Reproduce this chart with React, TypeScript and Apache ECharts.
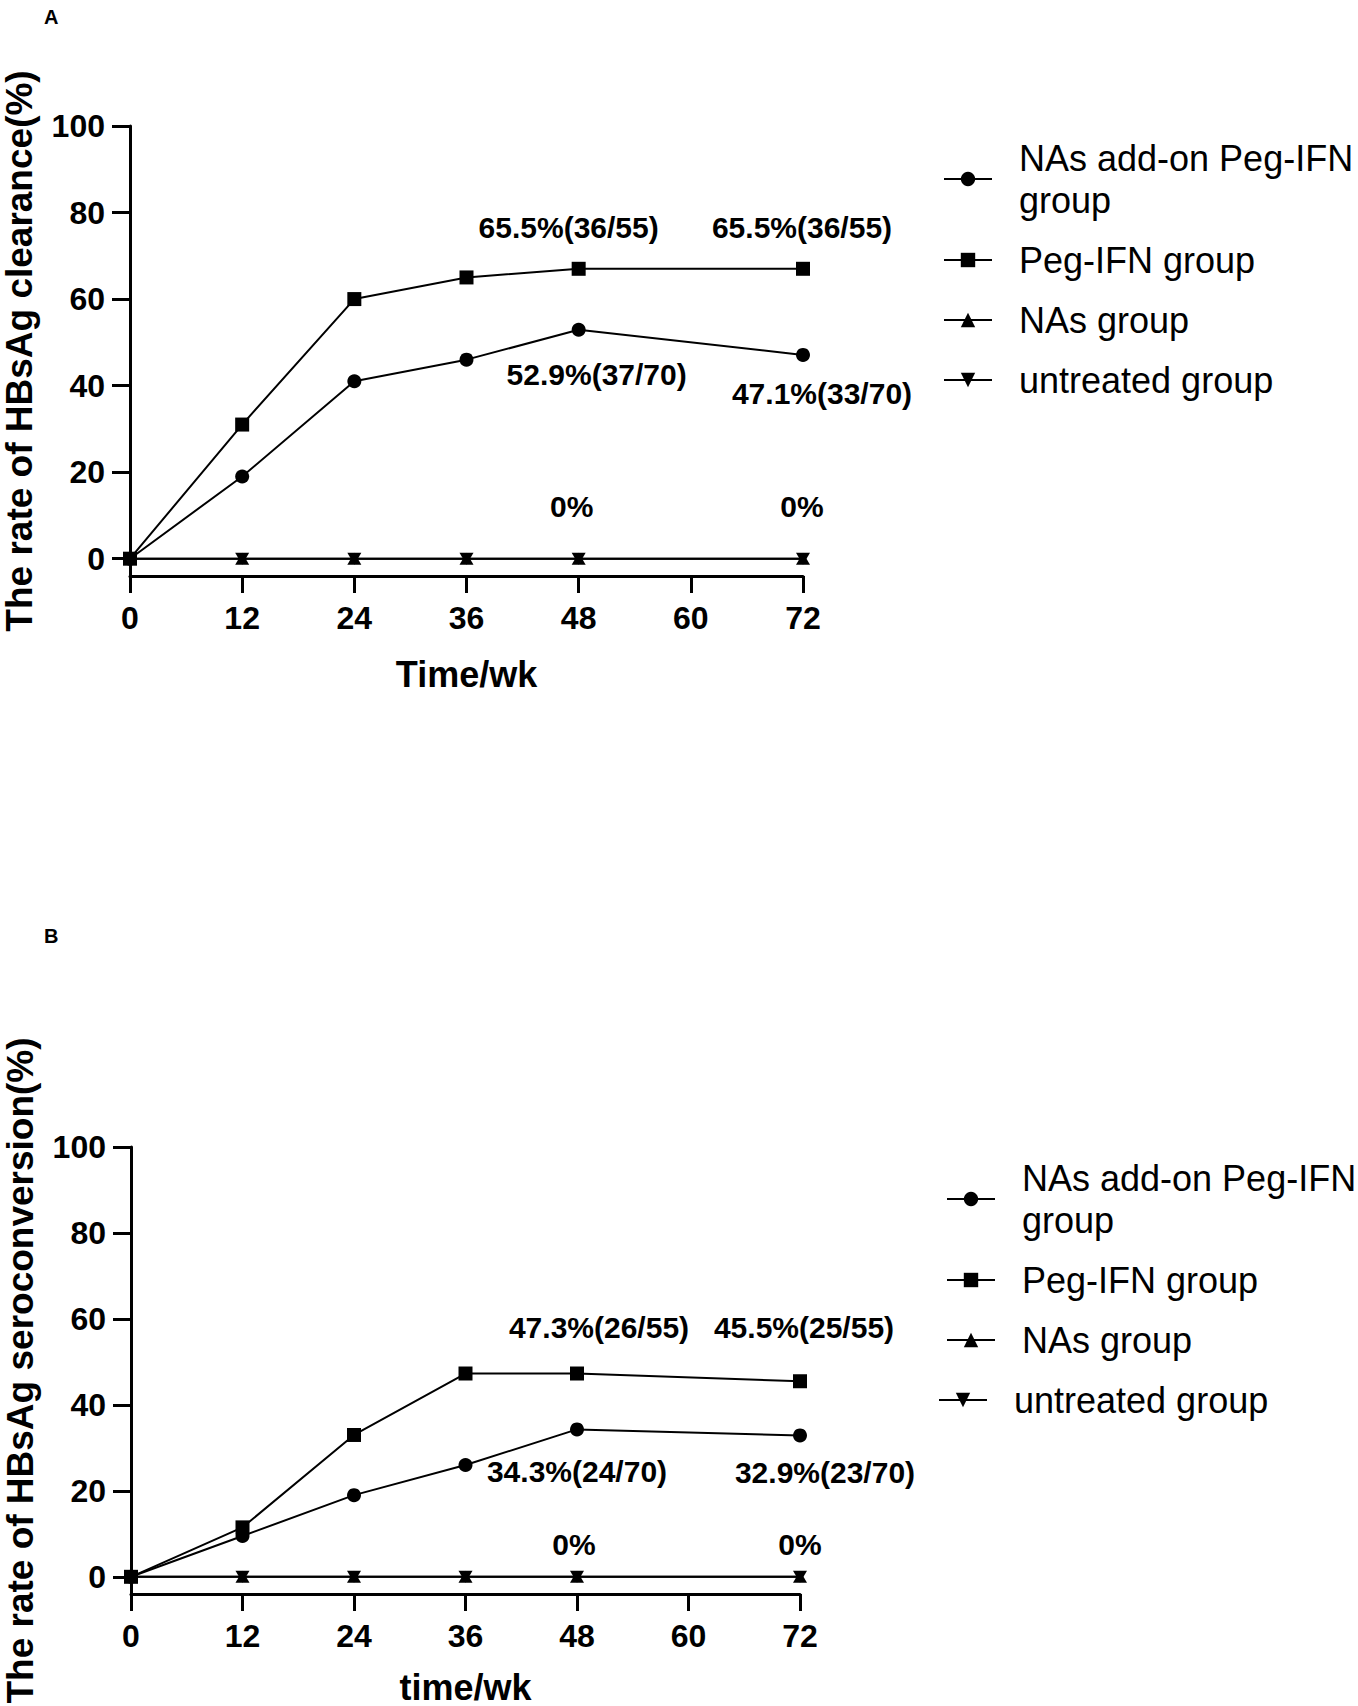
import React, { useEffect, useRef } from "react";
import * as echarts from "echarts";

// ---- data ----
const weeks = [0, 12, 24, 36, 48, 72];
const xTickStep = 12;
const yTicks = [0, 20, 40, 60, 80, 100];
const groupNames = [
  "NAs add-on Peg-IFN group",
  "Peg-IFN group",
  "NAs group",
  "untreated group",
];

// Panel A: HBsAg clearance (%)
const clearanceCombo = [0, 19, 41, 46, 52.9, 47.1];
const clearancePeg = [0, 31, 60, 65, 67, 67];
const clearanceNAs = [0, 0, 0, 0, 0, 0];
const clearanceUntreated = [0, 0, 0, 0, 0, 0];
const clearanceComboText = ["", "", "", "", "52.9%(37/70)", "47.1%(33/70)"];
const clearancePegText = ["", "", "", "", "65.5%(36/55)", "65.5%(36/55)"];
const clearanceZeroText = ["", "", "", "", "0%", "0%"];

// Panel B: HBsAg seroconversion (%)
const seroCombo = [0, 9.5, 19, 26, 34.3, 32.9];
const seroPeg = [0, 11.5, 33, 47.3, 47.3, 45.5];
const seroNAs = [0, 0, 0, 0, 0, 0];
const seroUntreated = [0, 0, 0, 0, 0, 0];
const seroComboText = ["", "", "", "", "34.3%(24/70)", "32.9%(23/70)"];
const seroPegText = ["", "", "", "", "47.3%(26/55)", "45.5%(25/55)"];
const seroZeroText = ["", "", "", "", "0%", "0%"];

// ---- styles ----
const FONT = "'Liberation Sans', Arial, Helvetica, sans-serif";
const symbols = ["circle", "rect", "triangle", "triangle"];
const rotations = [0, 0, 0, 180];

const offA: Record<string, Record<number, number[]>> = {
  combo: { 4: [18, 45], 5: [19, 39] },
  peg: { 4: [-10, -41], 5: [-1, -41] },
  zero: { 4: [-7, -52], 5: [-1, -52] },
};
const offB: Record<string, Record<number, number[]>> = {
  combo: { 4: [0, 42], 5: [25, 37] },
  peg: { 4: [22, -46], 5: [4, -54] },
  zero: { 4: [-3, -32], 5: [0, -32] },
};

function buildData(values: number[], texts: string[] | null, offsets: Record<number, number[]> | null) {
  return weeks.map((w, i) => {
    const t = texts ? texts[i] : "";
    return {
      value: [w, values[i]],
      label: t
        ? {
            show: true,
            formatter: t,
            position: "inside",
            offset: offsets ? offsets[i] : [0, 0],
            fontFamily: FONT,
            fontWeight: "bold",
            fontSize: 30,
            color: "#000",
          }
        : { show: false },
    };
  });
}

function makeSeries(idx: number, gridIdx: number, data: any[]) {
  return {
    type: "line",
    name: groupNames[idx],
    xAxisIndex: gridIdx,
    yAxisIndex: gridIdx,
    data,
    symbol: symbols[idx],
    symbolRotate: rotations[idx],
    symbolSize: idx === 1 ? 14 : idx >= 2 ? [14, 12] : 14,
    showAllSymbol: true,
    lineStyle: { color: "#000", width: 2 },
    itemStyle: { color: "#000" },
    emphasis: { disabled: true },
    z: 10 - idx,
  };
}

function makeXAxis(gridIdx: number, name: string, gap: number) {
  return {
    type: "value",
    gridIndex: gridIdx,
    min: 0,
    max: 72,
    interval: xTickStep,
    name,
    nameLocation: "middle",
    nameGap: gap,
    nameTextStyle: { fontFamily: FONT, fontWeight: "bold", fontSize: 36, color: "#000" },
    axisLine: { onZero: false, lineStyle: { color: "#000", width: 3 } },
    axisTick: { length: 17, lineStyle: { color: "#000", width: 3 } },
    axisLabel: { margin: 26, fontFamily: FONT, fontWeight: "bold", fontSize: 32, color: "#000" },
    splitLine: { show: false },
  };
}

function makeYAxis(gridIdx: number, name: string) {
  return {
    type: "value",
    gridIndex: gridIdx,
    min: -4,
    max: 100,
    name,
    nameLocation: "middle",
    nameGap: 92,
    nameTextStyle: { fontFamily: FONT, fontWeight: "bold", fontSize: 37, color: "#000" },
    axisLine: { show: true, onZero: false, lineStyle: { color: "#000", width: 3 } },
    axisTick: { show: true, length: 18, customValues: yTicks, lineStyle: { color: "#000", width: 3 } },
    axisLabel: { margin: 25, customValues: yTicks, fontFamily: FONT, fontWeight: "bold", fontSize: 32, color: "#000" },
    splitLine: { show: false },
  };
}

function legendFormatter(name: string) {
  return name === "NAs add-on Peg-IFN group" ? "NAs add-on Peg-IFN\ngroup" : name;
}

function makeLegend(names: string[], left: number, top: number) {
  return {
    orient: "vertical",
    left,
    top,
    padding: 0,
    data: names,
    itemWidth: 48,
    itemHeight: 18,
    itemGap: 18,
    selectedMode: false,
    formatter: legendFormatter,
    textStyle: {
      fontFamily: FONT,
      fontSize: 36,
      lineHeight: 42,
      color: "#000",
      padding: [0, 0, 0, 22],
    },
  };
}

export default function App() {
  const ref = useRef<HTMLDivElement>(null);
  useEffect(() => {
    document.body.style.margin = "0";
    if (!ref.current) return;
    const chart = echarts.init(ref.current, null, { renderer: "svg" });
    const option: any = {
      animation: false,
      backgroundColor: "#fff",
      grid: [
        { left: 130, top: 126, width: 673, height: 450 },
        { left: 131, top: 1147, width: 669, height: 447 },
      ],
      xAxis: [makeXAxis(0, "Time/wk", 80), makeXAxis(1, "time/wk", 75)],
      yAxis: [
        makeYAxis(0, "The rate of HBsAg clearance(%)"),
        makeYAxis(1, "The rate of HBsAg seroconversion(%)"),
      ],
      legend: [
        makeLegend(groupNames, 943, 137),
        makeLegend(groupNames.slice(0, 3), 946, 1157),
        makeLegend(groupNames.slice(3), 938, 1379),
      ],
      series: [
        makeSeries(0, 0, buildData(clearanceCombo, clearanceComboText, offA.combo)),
        makeSeries(1, 0, buildData(clearancePeg, clearancePegText, offA.peg)),
        makeSeries(2, 0, buildData(clearanceNAs, clearanceZeroText, offA.zero)),
        makeSeries(3, 0, buildData(clearanceUntreated, null, null)),
        makeSeries(0, 1, buildData(seroCombo, seroComboText, offB.combo)),
        makeSeries(1, 1, buildData(seroPeg, seroPegText, offB.peg)),
        makeSeries(2, 1, buildData(seroNAs, seroZeroText, offB.zero)),
        makeSeries(3, 1, buildData(seroUntreated, null, null)),
      ],
      graphic: [
        { type: "text", left: 44, top: 7, style: { text: "A", fontFamily: FONT, fontWeight: "bold", fontSize: 20, fill: "#000" } },
        { type: "text", left: 44, top: 926, style: { text: "B", fontFamily: FONT, fontWeight: "bold", fontSize: 20, fill: "#000" } },
      ],
    };
    chart.setOption(option);
    return () => chart.dispose();
  }, []);
  return <div ref={ref} style={{ width: 1358, height: 1706 }} />;
}
